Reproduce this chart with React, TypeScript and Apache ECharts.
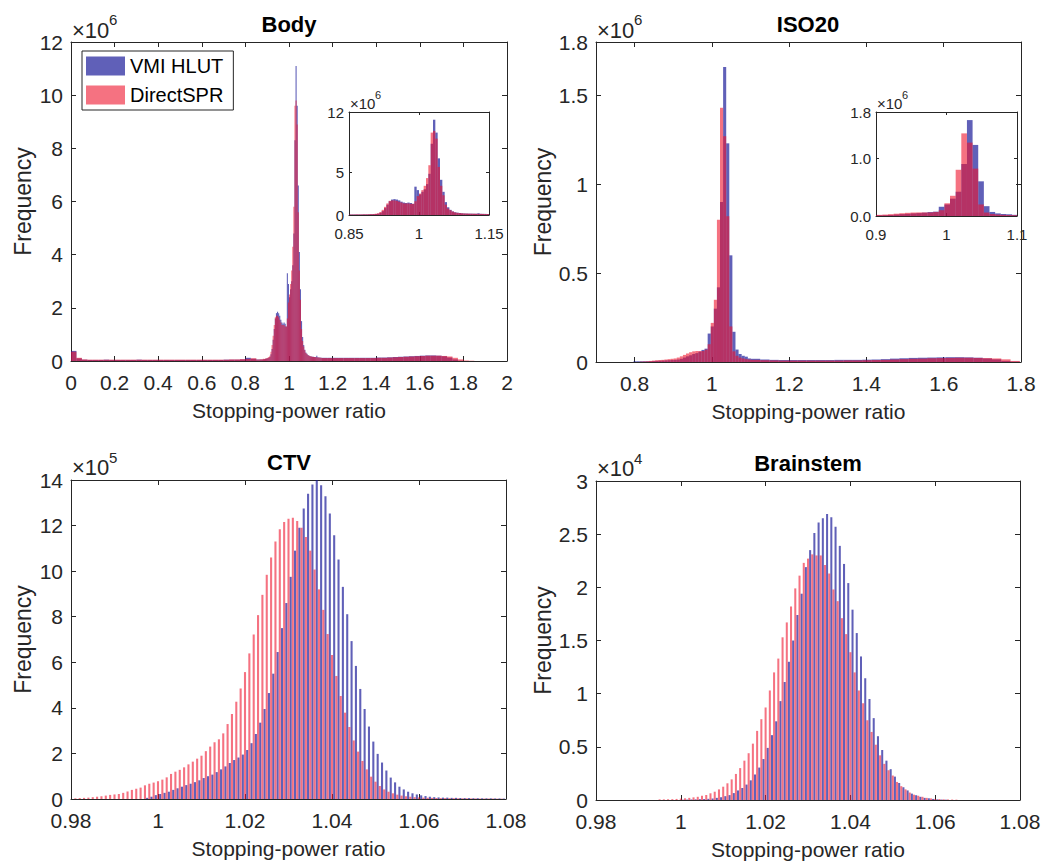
import React, { useEffect, useRef } from 'react';
import * as echarts from 'echarts';

// ---------------- data ----------------
// Body histogram (units of 1e6 voxels)
const bodyLowStart = 0;
const bodyLowWidth = 0.025;
const bodyLowBlue = [0.38, 0.10, 0.05, 0.04, 0.04, 0.04, 0.05, 0.04, 0.04, 0.04,
  0.04, 0.04, 0.05, 0.04, 0.04, 0.04, 0.04, 0.04, 0.04, 0.04,
  0.04, 0.04, 0.04, 0.04, 0.04, 0.04, 0.04, 0.04, 0.05, 0.05,
  0.05, 0.06, 0.12, 0.08];
const bodyLowRed = [0.35, 0.12, 0.06, 0.05, 0.05, 0.05, 0.05, 0.05, 0.05, 0.05,
  0.05, 0.05, 0.05, 0.05, 0.05, 0.05, 0.05, 0.05, 0.05, 0.05,
  0.05, 0.05, 0.05, 0.05, 0.05, 0.05, 0.05, 0.05, 0.05, 0.06,
  0.06, 0.07, 0.08, 0.10];
const bodyCoreStart = 0.85;
const bodyCoreWidth = 0.005;
const bodyCoreBlue = [0.06, 0.06, 0.06, 0.06, 0.06, 0.06, 0.07, 0.07, 0.08, 0.09,
  0.10, 0.12, 0.15, 0.25, 0.45, 0.80, 1.20, 1.60, 1.80, 1.85,
  1.80, 1.70, 1.55, 1.45, 1.40, 1.45, 1.40, 1.30, 3.30, 2.90,
  2.40, 2.70, 3.00, 3.60, 4.80, 8.30, 11.1, 9.60, 6.60, 4.10,
  2.70, 1.50, 0.90, 0.60, 0.42, 0.32, 0.27, 0.23, 0.20, 0.18,
  0.17, 0.16, 0.16, 0.15, 0.15, 0.20, 0.14, 0.13, 0.13, 0.12];
const bodyCoreRed = [0.06, 0.06, 0.06, 0.07, 0.07, 0.07, 0.08, 0.08, 0.09, 0.10,
  0.12, 0.15, 0.20, 0.35, 0.60, 0.95, 1.35, 1.65, 1.70, 1.70,
  1.65, 1.55, 1.45, 1.35, 1.35, 1.35, 1.30, 1.30, 1.60, 2.20,
  2.50, 2.90, 3.40, 4.30, 5.80, 9.60, 9.80, 8.90, 5.60, 3.40,
  2.30, 1.20, 0.75, 0.55, 0.40, 0.30, 0.25, 0.22, 0.20, 0.18,
  0.17, 0.16, 0.15, 0.15, 0.14, 0.14, 0.13, 0.13, 0.12, 0.12];
const bodyHighStart = 1.15;
const bodyHighWidth = 0.025;
const bodyHighBlue = [0.12, 0.12, 0.12, 0.12, 0.12, 0.12, 0.12, 0.12, 0.12, 0.12,
  0.13, 0.13, 0.14, 0.15, 0.16, 0.17, 0.18, 0.19, 0.20, 0.21,
  0.21, 0.20, 0.18, 0.13, 0.06, 0.01, 0, 0];
const bodyHighRed = [0.11, 0.11, 0.11, 0.11, 0.11, 0.11, 0.11, 0.11, 0.11, 0.11,
  0.12, 0.12, 0.13, 0.14, 0.15, 0.16, 0.17, 0.18, 0.19, 0.20,
  0.20, 0.20, 0.19, 0.17, 0.12, 0.06, 0.02, 0.01];

// ISO20 histogram (units of 1e6)
const isoLowStart = 0.797;
const isoLowWidth = 0.008;
const isoLowBlue = [0.004, 0.004, 0.004, 0.004, 0.004, 0.004, 0.005, 0.006, 0.007, 0.008,
  0.009, 0.010, 0.011, 0.012, 0.014, 0.018, 0.025, 0.032, 0.038, 0.045,
  0.050, 0.058, 0.068, 0.075, 0.160, 0.200, 0.300, 0.420, 0.900, 1.660,
  1.230, 0.600, 0.170, 0.070, 0.045, 0.035, 0.030, 0.020];
const isoLowRed = [0, 0, 0.002, 0.003, 0.004, 0.006, 0.008, 0.010, 0.011, 0.012,
  0.014, 0.016, 0.018, 0.020, 0.025, 0.032, 0.040, 0.048, 0.055, 0.060,
  0.062, 0.062, 0.062, 0.070, 0.100, 0.220, 0.350, 0.800, 1.430, 1.270,
  0.820, 0.200, 0.060, 0.035, 0.025, 0.020, 0.016, 0.014];
const isoHighStart = 1.101;
const isoHighWidth = 0.024;
const isoHighBlue = [0.018, 0.014, 0.012, 0.011, 0.011, 0.011, 0.011, 0.011, 0.011, 0.012,
  0.012, 0.012, 0.013, 0.014, 0.016, 0.019, 0.021, 0.023, 0.024, 0.025,
  0.026, 0.027, 0.027, 0.026, 0.024, 0.020, 0.015, 0.006, 0.002];
const isoHighRed = [0.012, 0.010, 0.009, 0.008, 0.008, 0.008, 0.008, 0.008, 0.008, 0.008,
  0.009, 0.009, 0.010, 0.011, 0.012, 0.014, 0.016, 0.018, 0.019, 0.021,
  0.022, 0.023, 0.024, 0.024, 0.023, 0.022, 0.020, 0.015, 0.006];

// CTV histogram (units of 1e5), bin step 0.001
const ctvStep = 0.001;
const ctvRedFirst = 0.981;
const ctvRed = [0.03, 0.04, 0.05, 0.06, 0.08, 0.10, 0.12, 0.15, 0.18, 0.20,
  0.22, 0.27, 0.33, 0.40, 0.45, 0.50, 0.60, 0.67, 0.72, 0.78,
  0.85, 0.95, 1.10, 1.20, 1.28, 1.39, 1.52, 1.64, 1.77, 1.90,
  2.10, 2.30, 2.49, 2.62, 2.88, 3.29, 3.73, 4.27, 4.85, 5.57,
  6.39, 7.22, 8.07, 8.96, 9.84, 10.6, 11.3, 11.84, 12.16, 12.3,
  12.34, 12.2, 11.9, 11.5, 10.9, 10.07, 9.2, 8.3, 7.24, 6.32,
  5.4, 4.52, 3.79, 3.16, 2.57, 2.08, 1.67, 1.3, 0.98, 0.76,
  0.57, 0.42, 0.32, 0.25, 0.19, 0.15, 0.12, 0.10, 0.08, 0.07,
  0.06, 0.055, 0.05, 0.045, 0.04, 0.04, 0.035, 0.035, 0.03, 0.03,
  0.03, 0.025, 0.025, 0.02, 0.02, 0.02, 0.02, 0.015, 0.015];
const ctvBlueFirst = 0.9975;
const ctvBlue = [0.05, 0.10, 0.17, 0.22, 0.27, 0.32, 0.40, 0.47, 0.54, 0.61,
  0.67, 0.74, 0.82, 0.92, 1.00, 1.07, 1.18, 1.30, 1.43, 1.58,
  1.71, 1.82, 1.95, 2.15, 2.45, 2.85, 3.35, 3.95, 4.65, 5.5,
  6.45, 7.5, 8.6, 9.75, 10.9, 11.9, 12.75, 13.4, 13.8, 14.0,
  13.77, 13.29, 12.53, 11.58, 10.51, 9.31, 8.11, 6.93, 5.84, 4.83,
  3.95, 3.18, 2.52, 1.98, 1.6, 1.25, 0.94, 0.73, 0.54, 0.42,
  0.32, 0.25, 0.2, 0.16, 0.13, 0.1, 0.08, 0.07, 0.06, 0.06,
  0.05, 0.05, 0.045, 0.04, 0.04, 0.035, 0.035, 0.03, 0.03, 0.03,
  0.025, 0.025, 0.02];

// Brainstem histogram (units of 1e4), bin step 0.001
const bsStep = 0.001;
const bsRedFirst = 0.995;
const bsRed = [0.006, 0.006, 0.007, 0.008, 0.01, 0.013, 0.016, 0.02, 0.025, 0.03,
  0.04, 0.047, 0.063, 0.078, 0.1, 0.125, 0.157, 0.194, 0.245, 0.3,
  0.37, 0.44, 0.53, 0.65, 0.76, 0.87, 1.03, 1.2, 1.33, 1.53,
  1.67, 1.82, 1.99, 2.11, 2.23, 2.27, 2.31, 2.3, 2.3, 2.21,
  2.13, 1.98, 1.87, 1.71, 1.56, 1.39, 1.2, 1.03, 0.91, 0.75,
  0.64, 0.52, 0.42, 0.34, 0.28, 0.23, 0.17, 0.13, 0.1, 0.07,
  0.05, 0.04, 0.03, 0.02, 0.015, 0.01, 0.008, 0.006, 0.005, 0.004, 0.003];
const bsBlueFirst = 1.0005;
const bsBlue = [0.003, 0.004, 0.005, 0.006, 0.008, 0.009, 0.011, 0.014, 0.02, 0.026,
  0.036, 0.046, 0.065, 0.09, 0.113, 0.145, 0.185, 0.24, 0.305, 0.385,
  0.49, 0.61, 0.74, 0.93, 1.11, 1.3, 1.5, 1.74, 1.94, 2.19,
  2.35, 2.51, 2.61, 2.65, 2.69, 2.66, 2.57, 2.39, 2.22, 2.04,
  1.79, 1.57, 1.35, 1.145, 0.95, 0.77, 0.6, 0.47, 0.37, 0.29,
  0.22, 0.16, 0.12, 0.09, 0.06, 0.045, 0.03, 0.02, 0.016, 0.01,
  0.006, 0.004, 0.003];

const seriesNames = ['VMI HLUT', 'DirectSPR'];
const titles = ['Body', 'ISO20', 'CTV', 'Brainstem'];
const xTitle = 'Stopping-power ratio';
const yTitle = 'Frequency';

const bodyXTicks = [0, 0.2, 0.4, 0.6, 0.8, 1, 1.2, 1.4, 1.6, 1.8, 2];
const bodyYTicks = [0, 2, 4, 6, 8, 10, 12];
const isoXTicks = [0.8, 1, 1.2, 1.4, 1.6, 1.8];
const isoYTicks = [0, 0.5, 1, 1.5, 1.8];
const ctvXTicks = [0.98, 1, 1.02, 1.04, 1.06, 1.08];
const ctvYTicks = [0, 2, 4, 6, 8, 10, 12, 14];
const bsYTicks = [0, 0.5, 1, 1.5, 2, 2.5, 3];
const bodyInsetXTicks = [0.85, 1, 1.15];
const bodyInsetYTicks = [0, 5, 12];
const isoInsetXTicks = [0.9, 1, 1.1];
const isoInsetYTicks = [0, 1.0, 1.8];

// ---------------- helpers ----------------
const AX = '#262626';
const FONT = '"Liberation Sans", Arial, Helvetica, sans-serif';
const BLUE = 'rgba(20,20,150,0.68)';
const RED = 'rgba(238,20,45,0.6)';
const TICK_FONT = 21;

function uniformBins(start: number, width: number, values: number[]) {
  return values.map((v, i) => [start + i * width, start + (i + 1) * width, v]);
}
function centeredBars(first: number, step: number, half: number, values: number[]) {
  return values.map((v, i) => {
    const c = first + i * step;
    return [c - half, c + half, v];
  });
}

function renderHist(params: any, api: any) {
  const x0 = api.value(0);
  const x1 = api.value(1);
  const v = api.value(2);
  if (!(v > 0)) return null;
  const a = api.coord([x0, v]);
  const b = api.coord([x1, 0]);
  const cs = params.coordSys;
  const shape = echarts.graphic.clipRectByRect(
    { x: a[0], y: a[1], width: b[0] - a[0], height: b[1] - a[1] },
    { x: cs.x, y: cs.y, width: cs.width, height: cs.height }
  );
  return shape ? { type: 'rect', shape, style: api.style() } : null;
}

function axisPair(dim: 'x' | 'y', grid: number, min: number, max: number, ticks: number[], o: any) {
  const main: any = {
    type: 'value', gridIndex: grid, min, max,
    position: dim === 'x' ? 'bottom' : 'left',
    axisLine: { show: true, onZero: false, lineStyle: { color: AX, width: 1 } },
    axisTick: { show: o.tickLen > 0, inside: true, length: o.tickLen, customValues: ticks, lineStyle: { color: AX, width: 1 } },
    axisLabel: {
      show: true, customValues: ticks, margin: o.margin, fontSize: o.fontSize, color: AX,
      fontFamily: FONT, formatter: o.formatter, hideOverlap: false,
    },
    splitLine: { show: false },
  };
  if (o.name) {
    main.name = o.name;
    main.nameLocation = 'middle';
    main.nameGap = o.nameGap;
    main.nameTextStyle = { fontSize: o.nameSize || 20, color: AX, fontFamily: FONT };
  }
  const mirror: any = {
    type: 'value', gridIndex: grid, min, max,
    position: dim === 'x' ? 'top' : 'right',
    axisLine: { show: true, onZero: false, lineStyle: { color: AX, width: 1 } },
    axisTick: { show: o.tickLen > 0, inside: true, length: o.tickLen, customValues: ticks, lineStyle: { color: AX, width: 1 } },
    axisLabel: { show: false },
    splitLine: { show: false },
  };
  return [main, mirror];
}

function histSeries(name: string, color: string, axis: number, data: number[][]) {
  return {
    type: 'custom', name, xAxisIndex: axis, yAxisIndex: axis,
    renderItem: renderHist, data, encode: { x: [0, 1], y: 2 },
    itemStyle: { color }, silent: true, clip: true, z: 2,
  };
}

function txt(text: string, x: number, y: number, size: number, align: string, bold = false) {
  return {
    type: 'text', x, y, silent: true,
    style: {
      text, fill: bold ? '#000' : AX, fontSize: size, fontWeight: bold ? 'bold' : 'normal', fontFamily: FONT,
      textAlign: align, textVerticalAlign: 'middle', align, verticalAlign: 'middle',
    },
  };
}

export default function App() {
  const ref = useRef<HTMLDivElement>(null);
  useEffect(() => {
    if (!ref.current) return;
    const chart = echarts.init(ref.current, null, { renderer: 'svg' });

    const bodyBlue = [
      ...uniformBins(bodyLowStart, bodyLowWidth, bodyLowBlue),
      ...uniformBins(bodyCoreStart, bodyCoreWidth, bodyCoreBlue),
      ...uniformBins(bodyHighStart, bodyHighWidth, bodyHighBlue),
    ];
    const bodyRed = [
      ...uniformBins(bodyLowStart, bodyLowWidth, bodyLowRed),
      ...uniformBins(bodyCoreStart, bodyCoreWidth, bodyCoreRed),
      ...uniformBins(bodyHighStart, bodyHighWidth, bodyHighRed),
    ];
    const isoBlue = [
      ...uniformBins(isoLowStart, isoLowWidth, isoLowBlue),
      ...uniformBins(isoHighStart, isoHighWidth, isoHighBlue),
    ];
    const isoRed = [
      ...uniformBins(isoLowStart, isoLowWidth, isoLowRed),
      ...uniformBins(isoHighStart, isoHighWidth, isoHighRed),
    ];
    const half = 0.00024;
    const ctvBlueBars = centeredBars(ctvBlueFirst, ctvStep, half, ctvBlue);
    const ctvRedBars = centeredBars(ctvRedFirst, ctvStep, half, ctvRed);
    const bsBlueBars = centeredBars(bsBlueFirst, bsStep, half, bsBlue);
    const bsRedBars = centeredBars(bsRedFirst, bsStep, half, bsRed);

    const grids = [
      { left: 71, top: 42, width: 436, height: 319 },   // 0 Body
      { left: 349, top: 112, width: 140, height: 103, show: true, backgroundColor: '#fff', borderWidth: 0 }, // 1 Body inset
      { left: 596, top: 42, width: 425, height: 320 },  // 2 ISO20
      { left: 876, top: 112, width: 141, height: 104, show: true, backgroundColor: '#fff', borderWidth: 0 }, // 3 ISO20 inset
      { left: 71, top: 480, width: 435, height: 319 },  // 4 CTV
      { left: 596, top: 481, width: 424, height: 319 }, // 5 Brainstem
    ].map((g) => ({ ...g, containLabel: false, outerBoundsMode: 'none' }));

    const mainX = { tickLen: 5, margin: 11, fontSize: TICK_FONT, name: xTitle, nameGap: 39, nameSize: 21 };
    const insetX = { tickLen: 3, margin: 11, fontSize: 15 };
    const insetY = { tickLen: 3, margin: 5, fontSize: 15 };
    const mainY = (gap: number) => ({ tickLen: 5, margin: 8, fontSize: TICK_FONT, name: yTitle, nameGap: gap, nameSize: 23 });

    const xAxis = [
      ...axisPair('x', 0, 0, 2, bodyXTicks, mainX),
      ...axisPair('x', 1, 0.85, 1.15, bodyInsetXTicks, insetX),
      ...axisPair('x', 2, 0.7, 1.8, isoXTicks, mainX),
      ...axisPair('x', 3, 0.9, 1.1, isoInsetXTicks, insetX),
      ...axisPair('x', 4, 0.98, 1.08, ctvXTicks, mainX),
      ...axisPair('x', 5, 0.98, 1.08, ctvXTicks, mainX),
    ];
    const yAxis = [
      ...axisPair('y', 0, 0, 12, bodyYTicks, mainY(37)),
      ...axisPair('y', 1, 0, 12, bodyInsetYTicks, insetY),
      ...axisPair('y', 2, 0, 1.8, isoYTicks, mainY(42)),
      ...axisPair('y', 3, 0, 1.8, isoInsetYTicks, { ...insetY, formatter: (v: number) => v.toFixed(1) }),
      ...axisPair('y', 4, 0, 14, ctvYTicks, mainY(37)),
      ...axisPair('y', 5, 0, 3, bsYTicks, mainY(42)),
    ];

    const series = [
      histSeries(seriesNames[0], BLUE, 0, bodyBlue),
      histSeries(seriesNames[1], RED, 0, bodyRed),
      histSeries(seriesNames[0], BLUE, 2, bodyBlue),
      histSeries(seriesNames[1], RED, 2, bodyRed),
      histSeries(seriesNames[0], BLUE, 4, isoBlue),
      histSeries(seriesNames[1], RED, 4, isoRed),
      histSeries(seriesNames[0], BLUE, 6, isoBlue),
      histSeries(seriesNames[1], RED, 6, isoRed),
      histSeries(seriesNames[0], BLUE, 8, ctvBlueBars),
      histSeries(seriesNames[1], RED, 8, ctvRedBars),
      histSeries(seriesNames[0], BLUE, 10, bsBlueBars),
      histSeries(seriesNames[1], RED, 10, bsRedBars),
    ];

    const graphic = [
      txt(titles[0], 289, 24, 22, 'center', true),
      txt(titles[1], 808, 24, 22, 'center', true),
      txt(titles[2], 289, 462, 22, 'center', true),
      txt(titles[3], 808, 463, 22, 'center', true),
      txt('×10', 72, 30, 22, 'left'), txt('6', 109, 19, 15, 'left'),
      txt('×10', 597, 30, 22, 'left'), txt('6', 634, 19, 15, 'left'),
      txt('×10', 72, 467, 22, 'left'), txt('5', 109, 457, 15, 'left'),
      txt('×10', 597, 468, 22, 'left'), txt('4', 634, 458, 15, 'left'),
      txt('×10', 350, 103, 15, 'left'), txt('6', 375, 95, 11, 'left'),
      txt('×10', 877, 103, 15, 'left'), txt('6', 902, 95, 11, 'left'),
    ];

    chart.setOption({
      animation: false,
      backgroundColor: '#fff',
      textStyle: { fontFamily: FONT },
      grid: grids,
      xAxis,
      yAxis,
      legend: {
        show: true, orient: 'vertical', left: 82, top: 51,
        itemWidth: 39, itemHeight: 19, itemGap: 9,
        padding: [5, 10, 5, 4],
        borderColor: AX, borderWidth: 1, backgroundColor: '#fff',
        selectedMode: false,
        textStyle: { fontSize: 20, color: '#000', fontFamily: FONT },
        data: [{ name: seriesNames[0], icon: 'rect' }, { name: seriesNames[1], icon: 'rect' }],
      },
      graphic: { elements: graphic },
      series,
    });
    return () => chart.dispose();
  }, []);
  return <div ref={ref} style={{ position: 'fixed', left: 0, top: 0, width: 1056, height: 865 }} />;
}
